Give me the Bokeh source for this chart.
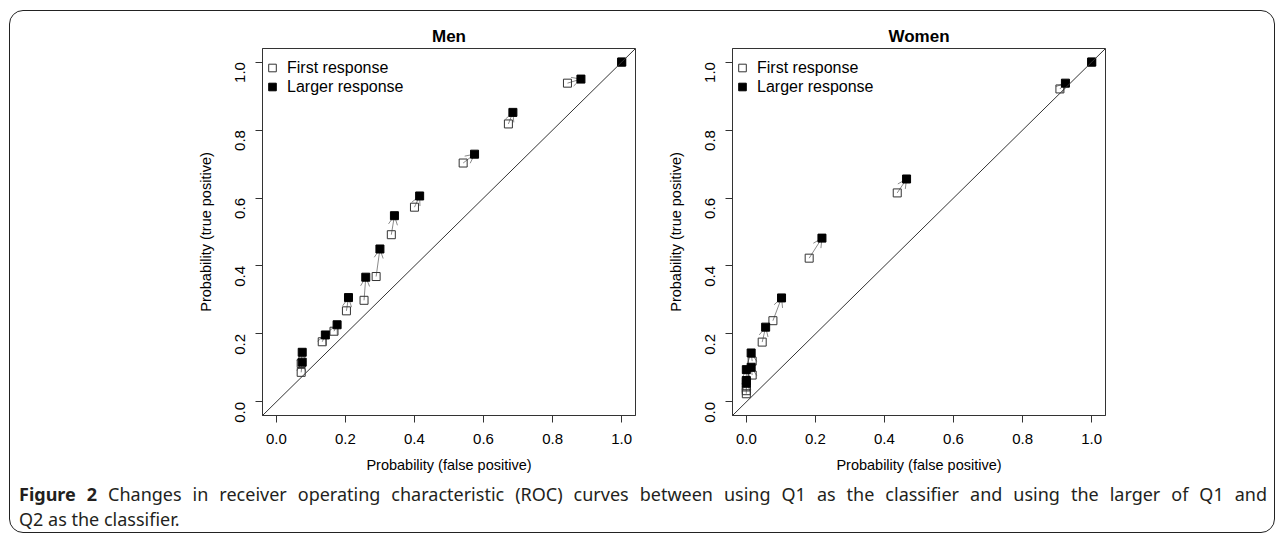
import math
from bokeh.plotting import figure
from bokeh.models import (Range1d, FixedTicker, PrintfTickFormatter, Slope, Arrow, OpenHead,
                          ColumnDataSource, Legend, LegendItem, Div, Spacer)
from bokeh.layouts import row, column
from bokeh.embed import file_html
from bokeh.resources import INLINE

# ---------------- data ----------------
tick_values = [0.0, 0.2, 0.4, 0.6, 0.8, 1.0]
x_title = "Probability (false positive)"
y_title = "Probability (true positive)"
legend_labels = ["First response", "Larger response"]
panel_titles = ["Men", "Women"]

men_first_fp = [0.072, 0.072, 0.133, 0.167, 0.203, 0.254, 0.289, 0.333, 0.400, 0.541, 0.672, 0.843, 1.0]
men_first_tp = [0.087, 0.113, 0.177, 0.208, 0.268, 0.299, 0.369, 0.492, 0.573, 0.703, 0.818, 0.938, 1.0]
men_larger_fp = [0.075, 0.075, 0.142, 0.176, 0.209, 0.259, 0.300, 0.342, 0.415, 0.574, 0.685, 0.882, 1.0]
men_larger_tp = [0.117, 0.146, 0.197, 0.227, 0.307, 0.367, 0.450, 0.548, 0.606, 0.729, 0.852, 0.950, 1.0]

women_first_fp = [0.0, 0.0, 0.0, 0.017, 0.017, 0.046, 0.077, 0.182, 0.437, 0.908, 1.0]
women_first_tp = [0.024, 0.033, 0.044, 0.079, 0.120, 0.176, 0.239, 0.423, 0.615, 0.921, 1.0]
women_larger_fp = [0.0, 0.0, 0.0, 0.014, 0.014, 0.056, 0.102, 0.219, 0.464, 0.924, 1.0]
women_larger_tp = [0.055, 0.063, 0.095, 0.102, 0.144, 0.220, 0.306, 0.482, 0.656, 0.938, 1.0]

caption_bold = "Figure 2"
caption_line1 = ("Changes in receiver operating characteristic (ROC) curves between using Q1 as the "
                 "classifier and using the larger of Q1 and")
caption_line2 = "Q2 as the classifier."

FONT = "Liberation Sans"
DARK = "#333333"
ARROW = "#8a8a8a"


def make_panel(title, ffp, ftp, lfp, ltp):
    p = figure(width=470, height=468, x_range=Range1d(-0.04, 1.04), y_range=Range1d(-0.04, 1.04),
               output_backend="svg", toolbar_location=None, title=title,
               min_border_left=82, min_border_right=15, min_border_top=37, min_border_bottom=64)
    p.title.align = "center"
    p.title.text_font = FONT
    p.title.text_font_size = "17px"
    p.title.text_font_style = "bold"
    p.title.text_color = "black"
    p.title.standoff = 6
    p.xgrid.visible = False
    p.ygrid.visible = False
    p.outline_line_color = DARK
    p.outline_line_width = 1
    p.outline_line_alpha = 1
    p.background_fill_color = "white"
    p.border_fill_color = "white"

    for ax in (p.xaxis[0], p.yaxis[0]):
        ax.ticker = FixedTicker(ticks=tick_values, minor_ticks=[])
        ax.formatter = PrintfTickFormatter(format="%.1f")
        ax.major_tick_out = 7
        ax.major_tick_in = 0
        ax.minor_tick_out = 0
        ax.minor_tick_in = 0
        ax.axis_line_color = DARK
        ax.major_tick_line_color = DARK
        ax.major_label_text_font = FONT
        ax.major_label_text_font_size = "15px"
        ax.major_label_text_color = "black"
        ax.axis_label_text_font = FONT
        ax.axis_label_text_font_size = "14.5px"
        ax.axis_label_text_font_style = "normal"
        ax.axis_label_text_color = "black"
    p.xaxis.major_label_standoff = 11
    p.yaxis.major_label_standoff = 15
    p.xaxis.axis_label = x_title
    p.yaxis.axis_label = y_title
    p.xaxis.axis_label_standoff = 10
    p.yaxis.axis_label_standoff = 14
    p.yaxis.major_label_orientation = math.pi / 2

    p.add_layout(Slope(gradient=1, y_intercept=0, line_color=DARK, line_width=1))

    pairs = [(a, b, c, d) for a, b, c, d in zip(ffp, ftp, lfp, ltp) if (a, b) != (c, d)]
    src = ColumnDataSource(dict(x0=[q[0] for q in pairs], y0=[q[1] for q in pairs],
                                x1=[q[2] for q in pairs], y1=[q[3] for q in pairs]))
    p.add_layout(Arrow(end=OpenHead(size=9, line_color=ARROW, line_width=1),
                       x_start="x0", y_start="y0", x_end="x1", y_end="y1", source=src,
                       line_color=ARROW, line_width=1, level="underlay"))

    r1 = p.scatter(ffp, ftp, marker="square", size=8, fill_color=None, line_color=DARK, line_width=1)
    r2 = p.scatter(lfp, ltp, marker="square", size=8, fill_color="black", line_color="black", line_width=1)

    leg = Legend(items=[LegendItem(label=legend_labels[0], renderers=[r1]),
                        LegendItem(label=legend_labels[1], renderers=[r2])],
                 location=(0, 319), margin=0, padding=0, spacing=0,
                 glyph_width=20, glyph_height=19, label_height=19, label_standoff=5,
                 border_line_color=None, background_fill_alpha=0,
                 label_text_font=FONT, label_text_font_size="16px", label_text_color="black")
    p.add_layout(leg)
    return p


p_men = make_panel(panel_titles[0], men_first_fp, men_first_tp, men_larger_fp, men_larger_tp)
p_women = make_panel(panel_titles[1], women_first_fp, women_first_tp, women_larger_fp, women_larger_tp)

caption = Div(
    text=(f'<div style="width:1248px;text-align:justify;text-align-last:justify;">'
          f'<b>{caption_bold}</b> {caption_line1}</div>'
          f'<div style="width:1248px;text-align:left;">{caption_line2}</div>'),
    width=1250, height=50, margin=(3, 5, 0, 9),
    styles={"font-family": "Noto Sans", "font-size": "18px", "line-height": "24.5px", "color": "#231f20",
            "white-space": "nowrap"})

layout = column(row(Spacer(width=170, height=468), p_men, p_women), caption,
                margin=(10, 0, 0, 9),
                styles={"border": "1.5px solid #222", "border-radius": "14px", "background": "white"})

open("out.html", "w").write(file_html(layout, INLINE))
